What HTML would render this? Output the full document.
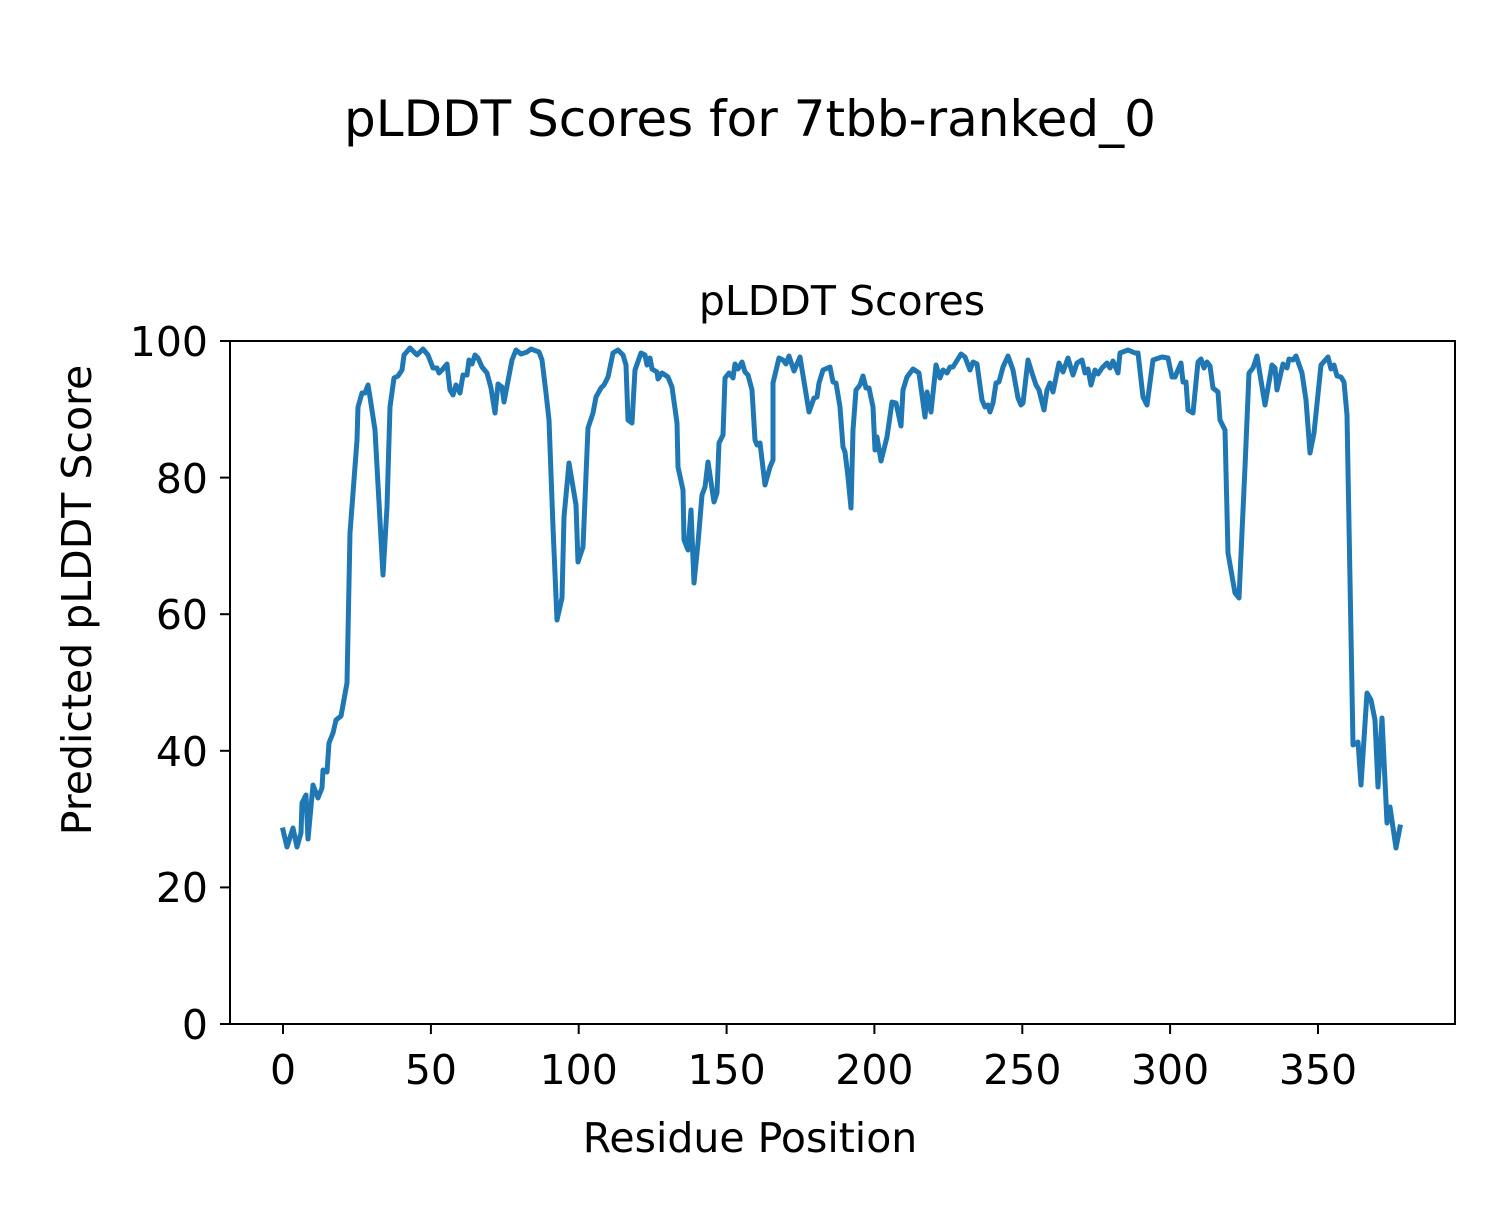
<!DOCTYPE html>
<html><head><meta charset="utf-8"><style>body{margin:0;background:#fff}svg text{font-family:"DejaVu Sans","Liberation Sans",sans-serif;fill:#000}</style></head>
<body>
<svg width="1500" height="1200" viewBox="0 0 1500 1200" xmlns="http://www.w3.org/2000/svg">
<rect width="1500" height="1200" fill="#fff"/>
<text x="750" y="136" font-size="50" text-anchor="middle">pLDDT Scores for 7tbb-ranked_0</text>
<text x="842" y="315" font-size="41" text-anchor="middle">pLDDT Scores</text>
<polyline fill="none" stroke="#1f77b4" stroke-width="5" stroke-linejoin="round" stroke-linecap="square" points="283,830 287,847 293,828 297,847 301,833 302,803 306,795 308,839 313,785 318,798 322,788 323,770 327,772 329,743 333,733 336,720 341,716 347,683 350,533 357,440 358,407 362,393 365,393 368,385 370,397 375,430 383,575 387,507 390,407 394,378 398,376 402,370 404,355 410,348 417,355 423,349 428,355 433,368 437,368 439,373 442,370 447,364 450,390 453,395 456,385 460,393 463,375 467,375 469,360 472,364 475,355 478,358 482,367 487,373 491,388 495,413 498,384 502,387 504,402 512,360 516,350 521,354 527,352 531,349 539,352 542,360 546,393 549,420 553,527 557,620 562,598 564,517 569,463 576,505 578,562 583,547 588,428 593,413 596,397 601,388 604,385 608,377 613,353 618,350 623,355 626,365 628,420 632,423 635,370 641,353 645,355 647,365 650,358 652,369 657,372 658,379 662,373 668,377 672,387 677,423 678,467 683,490 684,540 688,550 691,510 694,583 698,543 702,495 705,487 708,462 714,502 717,493 719,443 723,435 725,378 729,373 733,378 735,364 738,369 742,362 745,372 748,375 752,390 755,440 757,445 760,443 765,485 770,467 773,460 773,383 779,358 783,360 786,364 789,356 794,371 800,357 809,412 814,398 817,397 819,383 823,370 830,367 833,382 836,383 840,407 843,447 845,452 848,477 851,508 853,430 856,390 860,385 863,376 866,388 869,388 873,407 875,450 877,437 881,461 887,437 892,402 896,403 901,426 903,390 907,377 913,369 919,373 925,417 927,392 931,412 936,365 940,378 943,370 947,373 950,367 953,367 961,354 965,357 970,370 973,362 977,364 982,400 985,407 988,405 990,412 993,403 996,383 999,382 1003,367 1008,356 1013,370 1018,398 1021,405 1023,403 1028,360 1032,373 1036,385 1039,390 1044,410 1047,390 1050,383 1053,392 1059,363 1063,372 1068,358 1073,375 1077,363 1082,360 1085,373 1088,369 1091,385 1095,370 1098,374 1102,368 1107,363 1110,368 1113,361 1118,373 1120,353 1128,350 1135,353 1138,353 1143,397 1147,405 1153,360 1162,357 1168,358 1172,377 1175,377 1181,363 1183,382 1186,382 1188,410 1193,413 1198,362 1201,359 1204,368 1207,362 1210,366 1213,388 1218,392 1220,420 1225,430 1228,553 1235,593 1239,598 1245,467 1249,373 1253,368 1257,356 1265,405 1272,365 1275,368 1277,390 1283,364 1287,368 1289,359 1293,360 1296,356 1302,373 1306,400 1310,453 1314,433 1321,365 1328,357 1331,369 1334,365 1337,376 1341,377 1344,382 1347,415 1353,745 1358,742 1361,785 1367,693 1371,700 1375,720 1378,787 1382,718 1387,823 1390,807 1396,848 1400,827"/>
<rect x="230" y="341" width="1225" height="683" fill="none" stroke="#000" stroke-width="2"/>
<g stroke="#000" stroke-width="2">
<line x1="283" y1="1024" x2="283" y2="1034"/><line x1="430.9" y1="1024" x2="430.9" y2="1034"/><line x1="578.7" y1="1024" x2="578.7" y2="1034"/><line x1="726.6" y1="1024" x2="726.6" y2="1034"/><line x1="874.4" y1="1024" x2="874.4" y2="1034"/><line x1="1022.3" y1="1024" x2="1022.3" y2="1034"/><line x1="1170.1" y1="1024" x2="1170.1" y2="1034"/><line x1="1318" y1="1024" x2="1318" y2="1034"/>
<line x1="220" y1="1024" x2="230" y2="1024"/><line x1="220" y1="887.4" x2="230" y2="887.4"/><line x1="220" y1="750.8" x2="230" y2="750.8"/><line x1="220" y1="614.2" x2="230" y2="614.2"/><line x1="220" y1="477.6" x2="230" y2="477.6"/><line x1="220" y1="341" x2="230" y2="341"/>
</g>
<g font-size="41" text-anchor="middle">
<text x="283" y="1084">0</text><text x="430.9" y="1084">50</text><text x="578.7" y="1084">100</text><text x="726.6" y="1084">150</text><text x="874.4" y="1084">200</text><text x="1022.3" y="1084">250</text><text x="1170.1" y="1084">300</text><text x="1318" y="1084">350</text>
</g>
<g font-size="41" text-anchor="end">
<text x="208" y="1039">0</text><text x="208" y="902">20</text><text x="208" y="766">40</text><text x="208" y="629">60</text><text x="208" y="493">80</text><text x="208" y="356">100</text>
</g>
<text x="750" y="1152" font-size="41" text-anchor="middle">Residue Position</text>
<text transform="translate(91,600) rotate(-90)" font-size="41" text-anchor="middle">Predicted pLDDT Score</text>
</svg>
</body></html>
